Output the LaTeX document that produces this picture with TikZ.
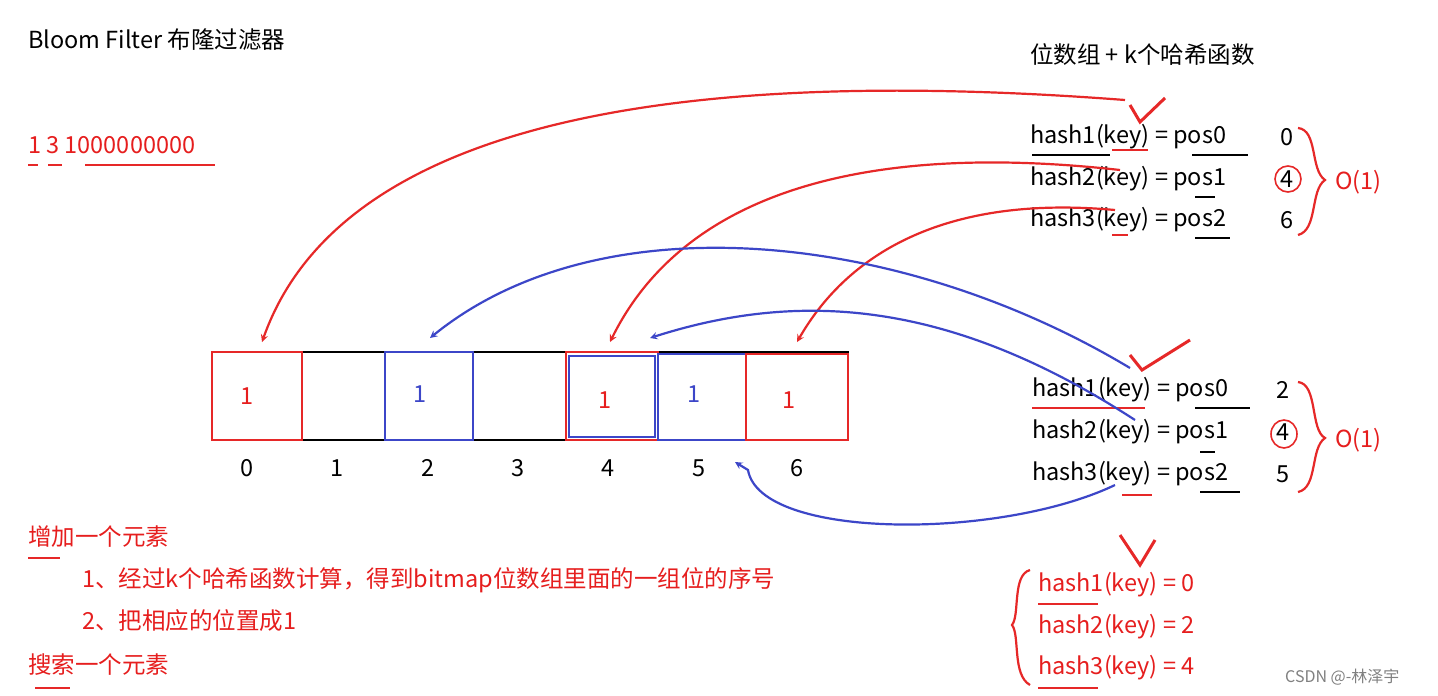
\documentclass[tikz,border=0pt]{standalone}
\usepackage{fontspec}
\setmainfont{Noto Sans CJK SC}
\begin{document}
\begin{tikzpicture}[x=1pt,y=-1pt,
  txt/.style={anchor=west,inner sep=0,font=\fontsize{23.5}{25}\selectfont},
  rtxt/.style={txt,text={rgb,255:red,230;green,30;blue,30}},
  red/.style={draw={rgb,255:red,230;green,40;blue,40},line width=2.2pt},
  blu/.style={draw={rgb,255:red,60;green,70;blue,200},line width=2.2pt},
  rarr/.style={red,->,>=stealth},
  barr/.style={blu,->,>=stealth}]
\definecolor{rd}{RGB}{230,30,30}
\definecolor{bl}{RGB}{60,70,200}
\useasboundingbox[fill=white] (0,0) rectangle (1438,696);
\node[txt] (title) at (28,40) {Bloom Filter 布隆过滤器};
\node[rtxt] (num) at (28,145) {1 3 1000000000};
\draw[red,line width=1.5pt] (28,165)--(38,165) (48,165)--(62,165) (85,165)--(215,165);
\node[txt] (head) at (1030,55) {位数组 + k个哈希函数};
% array
\draw[line width=2.8pt] (212,352) rectangle (848,440);
\foreach \x in {302,385,473,566,658,746} \draw[line width=2.8pt] (\x,352)--(\x,440);
\draw[red] (212,352) rectangle (302,440);
\draw[blu] (385,352) rectangle (473,440);
\draw[red] (566,352) rectangle (658,440);
\draw[blu] (569,356) rectangle (655,437);
\draw[blu] (658,354) rectangle (746,440);
\draw[red] (746,354) rectangle (848,440);
\node[rtxt] (c0) at (240,396) {1};
\node[txt,text=bl] (c2) at (413,394) {1};
\node[rtxt] (c4) at (598,400) {1};
\node[txt,text=bl] (c5) at (687,394) {1};
\node[rtxt] (c6) at (782,400) {1};
\foreach \x/\l in {247/0,337/1,428/2,518/3,608/4,699/5,797/6}
  \node[txt,anchor=center] (i\l) at (\x,468) {\l};
% hash group 1
\node[txt] (a1) at (1030,137) {hash1(key) = pos0};
\node[txt] (a2) at (1030,179) {hash2(key) = pos1};
\node[txt] (a3) at (1030,220) {hash3(key) = pos2};
\node[txt] (v1) at (1280,137) {0};
\node[txt] (v2) at (1280,179) {4};
\node[txt] (v3) at (1280,220) {6};
\draw[red,line width=1.6pt] (1288,179) ellipse (13 and 13);
\draw[red] (1298,128) .. controls (1318,130) and (1310,170) .. (1325,180) .. controls (1310,190) and (1318,230) .. (1298,235);
\node[rtxt] (o1) at (1335,182) {O(1)};
% hash group 2
\node[txt] (b1) at (1032,390) {hash1(key) = pos0};
\node[txt] (b2) at (1032,432) {hash2(key) = pos1};
\node[txt] (b3) at (1032,474) {hash3(key) = pos2};
\node[txt] (w1) at (1276,390) {2};
\node[txt] (w2) at (1276,432) {4};
\node[txt] (w3) at (1276,474) {5};
\draw[red,line width=1.6pt] (1284,434) ellipse (13 and 14);
\draw[red] (1298,382) .. controls (1318,384) and (1310,430) .. (1325,438) .. controls (1310,448) and (1318,488) .. (1298,492);
\node[rtxt] (o2) at (1335,440) {O(1)};
% underline marks
\draw[red,line width=1.5pt] (1112,150)--(1148,150) (1112,235)--(1128,235) (1122,495)--(1152,495) (1032,408)--(1145,408);
\draw[line width=1.5pt] (1032,155)--(1110,155) (1192,155)--(1248,155) (1195,197)--(1215,197) (1195,238)--(1230,238) (1195,408)--(1250,408) (1200,452)--(1215,452) (1200,492)--(1240,492);
% checks
\draw[red,line width=3pt] (1130,105)--(1140,122)--(1165,98);
\draw[red,line width=3pt] (1130,355)--(1142,370)--(1190,340);
\draw[red,line width=3pt] (1120,535)--(1140,565)--(1155,540);
% bottom result
\node[rtxt] (r1) at (1038,585) {hash1(key) = 0};
\node[rtxt] (r2) at (1038,627) {hash2(key) = 2};
\node[rtxt] (r3) at (1038,668) {hash3(key) = 4};
\draw[red] (1030,570) .. controls (1012,575) and (1020,615) .. (1012,625) .. controls (1020,635) and (1012,675) .. (1030,685);
\draw[red,line width=1.5pt] (1038,604)--(1098,604) (1038,688)--(1098,688);
% arrows
\draw[rarr] (1125,100) .. controls (600,60) and (330,150) .. (262,342);
\draw[rarr] (1120,170) .. controls (850,140) and (680,200) .. (610,342);
\draw[rarr] (1115,210) .. controls (950,195) and (850,250) .. (797,342);
\draw[barr] (1130,368) .. controls (900,230) and (600,200) .. (430,338);
\draw[barr] (1135,420) .. controls (950,300) and (800,290) .. (650,338);
\draw[barr] (1115,485) .. controls (1000,540) and (760,540) .. (748,470) -- (735,462);
% bottom left text
\node[rtxt] (s1) at (28,537) {增加一个元素};
\node[rtxt] (s2) at (82,580) {1、经过k个哈希函数计算，得到bitmap位数组里面的一组位的序号};
\node[rtxt] (s3) at (82,621) {2、把相应的位置成1};
\node[rtxt] (s4) at (28,665) {搜索一个元素};
\draw[red,line width=1.5pt] (28,558)--(60,558) (35,688)--(70,688);
\node[txt,text=gray,font=\fontsize{16}{18}\selectfont] (csdn) at (1285,677) {CSDN @-林泽宇};
\end{tikzpicture}
\end{document}
